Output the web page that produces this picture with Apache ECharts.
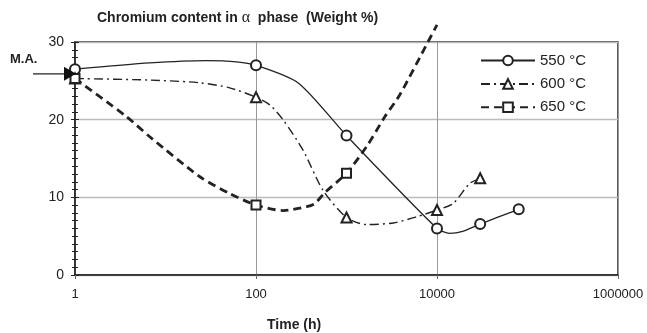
<!DOCTYPE html>
<html>
<head>
<meta charset="utf-8">
<script src="https://cdn.jsdelivr.net/npm/echarts@6/dist/echarts.min.js"></script>
<style>html,body{margin:0;padding:0;background:#fff}#c{width:647px;height:333px}</style>
</head>
<body>
<div id="c"></div>
<script>
// ---- data ----
const seriesNames = ['550 °C', '600 °C', '650 °C'];
const xTickLabels = ['1', '100', '10000', '1000000'];
const yTickLabels = ['0', '10', '20', '30'];

// measured points (with markers)
const measTime550 = [1, 100, 1000, 10000, 30000, 80000];
const measCr550   = [26.5, 27.0, 17.95, 6.0, 6.56, 8.46];
const measTime600 = [1, 100, 1000, 10000, 30000];
const measCr600   = [25.3, 22.9, 7.4, 8.37, 12.45];
const measTime650 = [1, 100, 1000];
const measCr650   = [25.3, 9.0, 13.1];

// traced curve points (no markers)
const traceTime550 = [6.7, 28.5, 61, 295, 13800, 18700];
const traceCr550   = [27.3, 27.6, 27.45, 24.7, 5.37, 5.57];
const traceTime600 = [6.7, 24, 51, 142, 200, 330, 550, 1660, 3300, 6000, 15100, 23000];
const traceCr600   = [25.1, 24.75, 24.1, 21.9, 19.95, 16.1, 10.9, 6.5, 6.7, 7.5, 9.2, 11.8];
const traceTime650 = [3.7, 6.7, 24, 51, 200, 363, 447, 575, 1660, 2660, 3880, 7940, 10000];
const traceCr650   = [20.4, 17.8, 12.65, 10.5, 8.3, 8.8, 9.2, 10.6, 16.5, 20.4, 23.2, 30.0, 32.2];

const maArrowValue = [1, 25.9];

function build(mt, mv, tt, tv) {
  const pts = [];
  mt.forEach((t, i) => pts.push({ value: [t, mv[i]] }));
  tt.forEach((t, i) => pts.push({ value: [t, tv[i]], symbol: 'none' }));
  pts.sort((a, b) => a.value[0] - b.value[0]);
  return pts;
}

const FONT = '"Liberation Sans", Arial, sans-serif';
const INK = '#222';

const chart = echarts.init(document.getElementById('c'), null, { renderer: 'canvas' });

function lineSeries(name, data, symbol, size, lineStyle) {
  return {
    name, type: 'line', data, symbol, symbolSize: size, smooth: 0.25,
    showAllSymbol: true, clip: false,
    lineStyle: Object.assign({ color: INK }, lineStyle),
    itemStyle: { color: INK, borderColor: INK, borderWidth: 1.2 },
    emphasis: { disabled: true }, animation: false
  };
}

const option = {
  animation: false,
  grid: { left: 75, right: 29, top: 42, bottom: 58, show: true, borderColor: INK, borderWidth: 1.5, backgroundColor: 'transparent' },
  legend: {
    left: 475, top: 48, orient: 'vertical', itemWidth: 54, itemHeight: 12, itemGap: 8.4,
    data: seriesNames,
    textStyle: { fontFamily: FONT, fontSize: 15, color: INK }
  },
  xAxis: {
    type: 'log', logBase: 100, min: 1, max: 1000000,
    axisLine: { lineStyle: { color: INK, width: 1.5 } },
    axisTick: { show: true, length: 4, lineStyle: { color: '#666' } },
    splitLine: { show: true, lineStyle: { color: '#999', width: 1 } },
    minorTick: { show: false },
    axisLabel: { fontFamily: FONT, fontSize: 13, color: INK, margin: 13,
      formatter: v => xTickLabels.find(s => Number(s) === Math.round(v)) || '' }
  },
  yAxis: [{
    type: 'value', min: 0, max: 30, interval: 10,
    axisLine: { show: true, lineStyle: { color: INK, width: 1.5 } },
    axisTick: { show: true, length: 4, lineStyle: { color: INK } },
    minorTick: { show: true, splitNumber: 10, length: 3, lineStyle: { color: INK } },
    splitLine: { show: true, lineStyle: { color: '#bbb', width: 1.3 } },
    axisLabel: { fontFamily: FONT, fontSize: 14, color: INK, margin: 11,
      formatter: v => yTickLabels.find(s => Number(s) === v) || '' }
  }, {
    type: 'value', min: 0, max: 30, interval: 10, position: 'left',
    axisLine: { show: false },
    axisTick: { show: true, inside: true, length: 4, lineStyle: { color: INK } },
    minorTick: { show: true, splitNumber: 10, length: 3, lineStyle: { color: INK } },
    splitLine: { show: false }, axisLabel: { show: false }
  }],
  series: [
    lineSeries(seriesNames[0], build(measTime550, measCr550, traceTime550, traceCr550), 'emptyCircle', 10, { width: 1.3, type: 'solid' }),
    lineSeries(seriesNames[1], build(measTime600, measCr600, traceTime600, traceCr600), 'emptyTriangle', 10, { width: 1.4, type: [9, 4, 2, 4] }),
    lineSeries(seriesNames[2], build(measTime650, measCr650, traceTime650, traceCr650), 'emptyRect', 9, { width: 2.8, type: [8, 5] })
  ]
};
chart.setOption(option);

const tip = chart.convertToPixel({ gridIndex: 0 }, maArrowValue);
chart.setOption({
  graphic: [
    { type: 'text', left: 97, top: 10, style: {
        text: 'Chromium content in {a|α}  phase  (Weight %)',
        font: 'bold 14px ' + FONT, fill: INK,
        rich: { a: { font: '16px "Liberation Serif", serif', fill: INK } } } },
    { type: 'text', left: 10, top: 53, style: { text: 'M.A.', font: 'bold 13px ' + FONT, fill: INK } },
    { type: 'text', left: 267, top: 318, style: { text: 'Time (h)', font: 'bold 14px ' + FONT, fill: INK } },
    { type: 'line', shape: { x1: 33, y1: tip[1], x2: tip[0] - 8, y2: tip[1] }, style: { stroke: INK, lineWidth: 1.3 }, z: 10 },
    { type: 'polygon', shape: { points: [[tip[0] + 1, tip[1]], [tip[0] - 11, tip[1] - 7], [tip[0] - 11, tip[1] + 7]] }, style: { fill: '#111' }, z: 10 }
  ]
});
</script>
</body>
</html>
